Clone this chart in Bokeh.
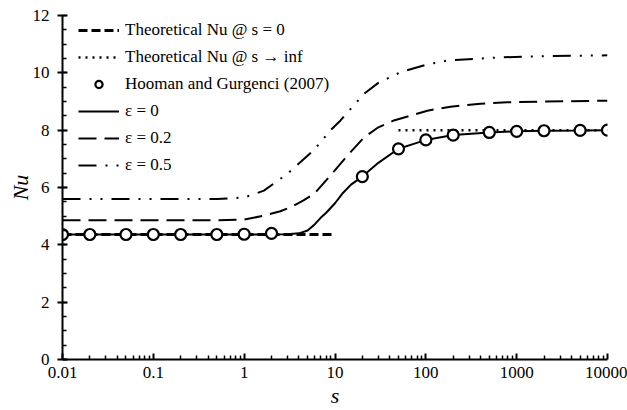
from bokeh.plotting import figure
from bokeh.models import Legend, LegendItem, FixedTicker, CustomJSTickFormatter, Range1d
from bokeh.embed import file_html
from bokeh.resources import INLINE

# ---- data ----
x_ticks = [0.01, 0.1, 1, 10, 100, 1000, 10000]
y_ticks = [0, 2, 4, 6, 8, 10, 12]

s_theory0 = [0.01, 10]
nu_theory0 = [4.36, 4.36]

s_theory_inf = [50, 10000]
nu_theory_inf = [8.0, 8.0]

s_exp = [0.01, 0.02, 0.05, 0.1, 0.2, 0.5, 1, 2, 20, 50, 100, 200, 500, 1000, 2000, 5000, 10000]
nu_exp = [4.36, 4.36, 4.36, 4.36, 4.36, 4.36, 4.37, 4.40, 6.38, 7.35, 7.66, 7.83, 7.92, 7.96, 7.98, 7.99, 8.0]

s_e0 = [0.01, 1, 3, 4, 5, 6, 7, 8, 10, 12, 15, 20, 30, 50, 75, 100, 200, 500, 1000, 2000, 5000, 10000]
nu_e0 = [4.36, 4.36, 4.37, 4.40, 4.50, 4.72, 4.95, 5.12, 5.45, 5.78, 6.10, 6.38, 6.86, 7.35, 7.53, 7.66, 7.83, 7.92, 7.96, 7.98, 7.99, 8.0]

s_e02 = [0.01, 0.5, 1, 1.65, 2.5, 3.25, 4.5, 5.9, 8.9, 14.2, 20.9, 30, 44.5, 104, 187, 400, 790, 2000, 10000]
nu_e02 = [4.86, 4.86, 4.88, 5.02, 5.17, 5.31, 5.55, 5.78, 6.42, 7.17, 7.75, 8.10, 8.34, 8.68, 8.82, 8.92, 8.97, 9.00, 9.03]

s_e05 = [0.01, 0.5, 1, 1.65, 3, 5.8, 8.9, 11.5, 20.9, 30, 52.6, 100, 174, 665, 2000, 10000]
nu_e05 = [5.60, 5.60, 5.65, 5.89, 6.48, 7.29, 7.99, 8.34, 9.27, 9.65, 10.02, 10.28, 10.43, 10.54, 10.58, 10.61]

labels = ["Theoretical Nu @ s = 0", "Theoretical Nu @ s \u2192 inf", "Hooman and Gurgenci (2007)",
          "\u03b5 = 0", "\u03b5 = 0.2", "\u03b5 = 0.5"]

FONT = "Liberation Serif"

p = figure(width=627, height=410, x_axis_type="log",
           x_range=Range1d(0.01, 10000), y_range=Range1d(0, 12),
           output_backend="svg", toolbar_location=None,
           min_border_left=62, min_border_right=20, min_border_top=15, min_border_bottom=51)
p.outline_line_color = None
p.xgrid.visible = False
p.ygrid.visible = False
p.background_fill_color = "white"
p.border_fill_color = "white"

r_t0 = p.line(s_theory0, nu_theory0, line_color="black", line_width=3, line_dash="9 4")
r_tinf = p.line(s_theory_inf, nu_theory_inf, line_color="black", line_width=2.5, line_dash="2 5")
r_e0 = p.line(s_e0, nu_e0, line_color="black", line_width=2)
r_e02 = p.line(s_e02, nu_e02, line_color="black", line_width=2, line_dash="18 8")
r_e05 = p.line(s_e05, nu_e05, line_color="black", line_width=2, line_dash="18 9 2 9 2 9")
r_exp = p.scatter(s_exp, nu_exp, marker="circle", size=11, fill_color="white",
                  line_color="black", line_width=2.2)

# axes
minor_x = []
for d in x_ticks[:-1]:
    for k in range(2, 10):
        minor_x.append(k * d)
p.xaxis.ticker = FixedTicker(ticks=x_ticks, minor_ticks=minor_x)
p.xaxis.formatter = CustomJSTickFormatter(code="return tick.toString();")
p.yaxis.ticker = FixedTicker(ticks=y_ticks, minor_ticks=[i * 0.5 for i in range(25)])

for ax in (p.xaxis[0], p.yaxis[0]):
    ax.axis_line_width = 2
    ax.axis_line_color = "black"
    ax.major_tick_line_width = 2
    ax.minor_tick_line_width = 1.5
    ax.major_tick_line_color = "black"
    ax.minor_tick_line_color = "black"
    ax.major_label_text_font = FONT
    ax.major_label_text_font_size = "17px"
    ax.major_label_text_color = "black"
    ax.axis_label_text_font = FONT
    ax.axis_label_text_font_style = "italic"
    ax.axis_label_text_font_size = "22px"
    ax.axis_label_text_color = "black"

p.xaxis.major_tick_in = 6
p.xaxis.major_tick_out = 0
p.xaxis.minor_tick_in = 4
p.xaxis.minor_tick_out = 0
p.xaxis.major_label_standoff = 7
p.xaxis.axis_label = "s"
p.xaxis.axis_label_standoff = 2

p.yaxis.major_tick_in = 5
p.yaxis.major_tick_out = 5
p.yaxis.minor_tick_in = 4
p.yaxis.minor_tick_out = 0
p.yaxis.major_label_standoff = 8
p.yaxis.axis_label = "Nu"
p.yaxis.axis_label_standoff = -3

items = [
    LegendItem(label=labels[0], renderers=[r_t0]),
    LegendItem(label=labels[1], renderers=[r_tinf]),
    LegendItem(label=labels[2], renderers=[r_exp]),
    LegendItem(label=labels[3], renderers=[r_e0]),
    LegendItem(label=labels[4], renderers=[r_e02]),
    LegendItem(label=labels[5], renderers=[r_e05]),
]
legend = Legend(items=items, location=(16, 184), margin=0, padding=0,
                glyph_width=41, glyph_height=18, label_height=18, spacing=7,
                label_standoff=6, label_text_font=FONT, label_text_font_size="17px",
                label_text_color="black", background_fill_alpha=0,
                border_line_color=None)
p.add_layout(legend)

open("out.html", "w").write(file_html(p, INLINE))
